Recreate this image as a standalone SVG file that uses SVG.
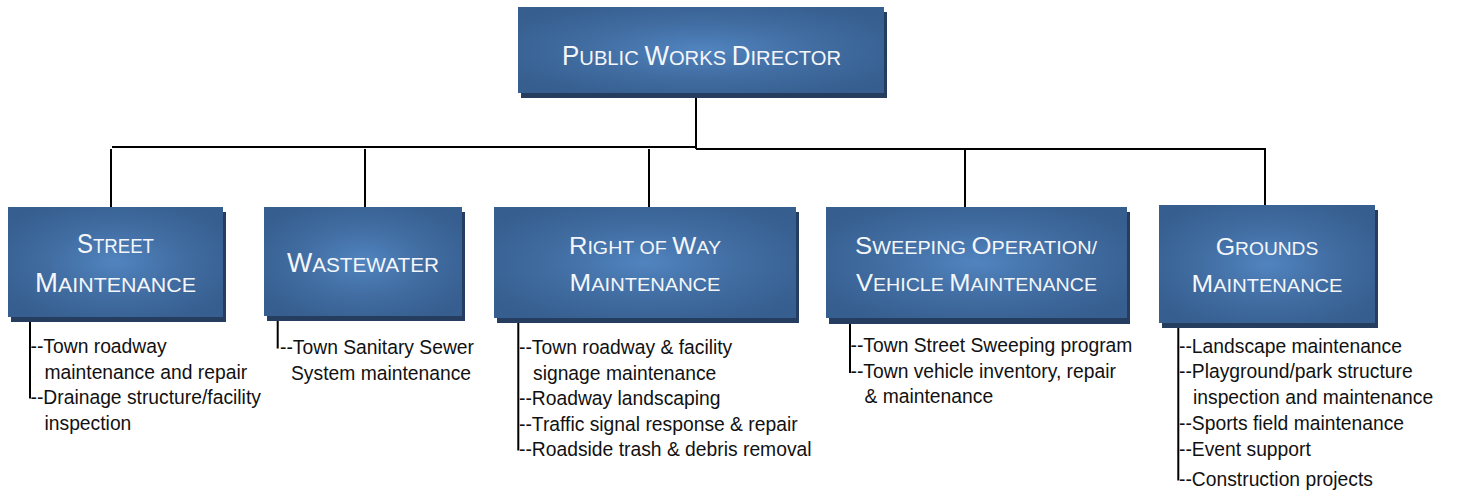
<svg xmlns="http://www.w3.org/2000/svg" width="1457" height="493" viewBox="0 0 1457 493">
<style>
.box{fill:url(#g)}
.sh{fill:#253d5e}
.h{font-family:"Liberation Sans",Arial,sans-serif;fill:#f4f6fa;text-anchor:middle}
.b{font-size:27px}
.s{font-size:21px}
.b2{font-size:24px}
.s2{font-size:18.5px}
.t{font-family:"Liberation Sans",Arial,sans-serif;font-size:19.3px;fill:#111}
.ln{stroke:#000;stroke-width:2;fill:none}
</style>
<defs>
<radialGradient id="g" cx="0.5" cy="0.5" r="0.62">
<stop offset="0" stop-color="#5184bf"/>
<stop offset="0.5" stop-color="#416da2"/>
<stop offset="1" stop-color="#365e8e"/>
</radialGradient>
</defs>
<rect width="1457" height="493" fill="#fff"/>
<g id="connectors" class="ln">
<path d="M696 93 V149 M112 147 H696 M696 149 H1266 M111 149 V207 M365 149 V207 M649 149 V207 M965 149 V207 M1265 149 V205"/>
<path d="M30 317 V398.5 M277.7 316 V348.5 M518.3 318 V450.5 M850 318 V373 M1178.3 323 V480.5"/>
</g>
<g id="director">
<rect class="sh" x="521" y="12" width="366" height="86"/>
<rect class="box" x="518" y="7" width="366" height="86"/>
<text class="h" x="701.5" y="65" textLength="279" lengthAdjust="spacingAndGlyphs"><tspan class="b">P</tspan><tspan class="s">UBLIC </tspan><tspan class="b">W</tspan><tspan class="s">ORKS </tspan><tspan class="b">D</tspan><tspan class="s">IRECTOR</tspan></text>
</g>
<g id="street">
<rect class="sh" x="11" y="212" width="215" height="110"/>
<rect class="box" x="8" y="207" width="215" height="110"/>
<text class="h" x="115.5" y="252.7" textLength="77" lengthAdjust="spacingAndGlyphs"><tspan class="b">S</tspan><tspan class="s">TREET</tspan></text>
<text class="h" x="115.5" y="291.7" textLength="161" lengthAdjust="spacingAndGlyphs"><tspan class="b">M</tspan><tspan class="s">AINTENANCE</tspan></text>
<text class="t" x="30.5" y="353.3">--Town roadway</text>
<text class="t" x="44.5" y="378.5">maintenance and repair</text>
<text class="t" x="30.5" y="404">--Drainage structure/facility</text>
<text class="t" x="44.5" y="430">inspection</text>
</g>
<g id="wastewater">
<rect class="sh" x="267" y="212" width="198" height="109"/>
<rect class="box" x="264" y="207" width="198" height="109"/>
<text class="h" x="363" y="271.7" textLength="152" lengthAdjust="spacingAndGlyphs"><tspan class="b">W</tspan><tspan class="s">ASTEWATER</tspan></text>
<text class="t" x="280" y="354.3">--Town Sanitary Sewer</text>
<text class="t" x="291" y="380">System maintenance</text>
</g>
<g id="row">
<rect class="sh" x="497" y="212" width="302" height="111"/>
<rect class="box" x="494" y="207" width="302" height="111"/>
<text class="h" x="645" y="254.3" textLength="152" lengthAdjust="spacingAndGlyphs"><tspan class="b2">R</tspan><tspan class="s2">IGHT OF </tspan><tspan class="b2">W</tspan><tspan class="s2">AY</tspan></text>
<text class="h" x="645" y="290.7" textLength="151" lengthAdjust="spacingAndGlyphs"><tspan class="b2">M</tspan><tspan class="s2">AINTENANCE</tspan></text>
<text class="t" x="519" y="354">--Town roadway &amp; facility</text>
<text class="t" x="533" y="379.5">signage maintenance</text>
<text class="t" x="519" y="405">--Roadway landscaping</text>
<text class="t" x="519" y="431">--Traffic signal response &amp; repair</text>
<text class="t" x="519" y="456">--Roadside trash &amp; debris removal</text>
</g>
<g id="sweeping">
<rect class="sh" x="829" y="212" width="301" height="112"/>
<rect class="box" x="826" y="207" width="301" height="111"/>
<text class="h" x="976" y="254.3" textLength="242" lengthAdjust="spacingAndGlyphs"><tspan class="b2">S</tspan><tspan class="s2">WEEPING </tspan><tspan class="b2">O</tspan><tspan class="s2">PERATION/</tspan></text>
<text class="h" x="976.5" y="290.7" textLength="241" lengthAdjust="spacingAndGlyphs"><tspan class="b2">V</tspan><tspan class="s2">EHICLE </tspan><tspan class="b2">M</tspan><tspan class="s2">AINTENANCE</tspan></text>
<text class="t" x="850.5" y="352.3">--Town Street Sweeping program</text>
<text class="t" x="850.5" y="378.3">--Town vehicle inventory, repair</text>
<text class="t" x="864.5" y="403.3">&amp; maintenance</text>
</g>
<g id="grounds">
<rect class="sh" x="1162" y="210" width="216" height="118"/>
<rect class="box" x="1159" y="205" width="216" height="118"/>
<text class="h" x="1267" y="255" textLength="102.6" lengthAdjust="spacingAndGlyphs"><tspan class="b2">G</tspan><tspan class="s2">ROUNDS</tspan></text>
<text class="h" x="1267" y="292.3" textLength="151" lengthAdjust="spacingAndGlyphs"><tspan class="b2">M</tspan><tspan class="s2">AINTENANCE</tspan></text>
<text class="t" x="1179" y="352.7">--Landscape maintenance</text>
<text class="t" x="1179" y="378.3">--Playground/park structure</text>
<text class="t" x="1193" y="404">inspection and maintenance</text>
<text class="t" x="1179" y="430">--Sports field maintenance</text>
<text class="t" x="1179" y="455.7">--Event support</text>
<text class="t" x="1179" y="486">--Construction projects</text>
</g>
</svg>
